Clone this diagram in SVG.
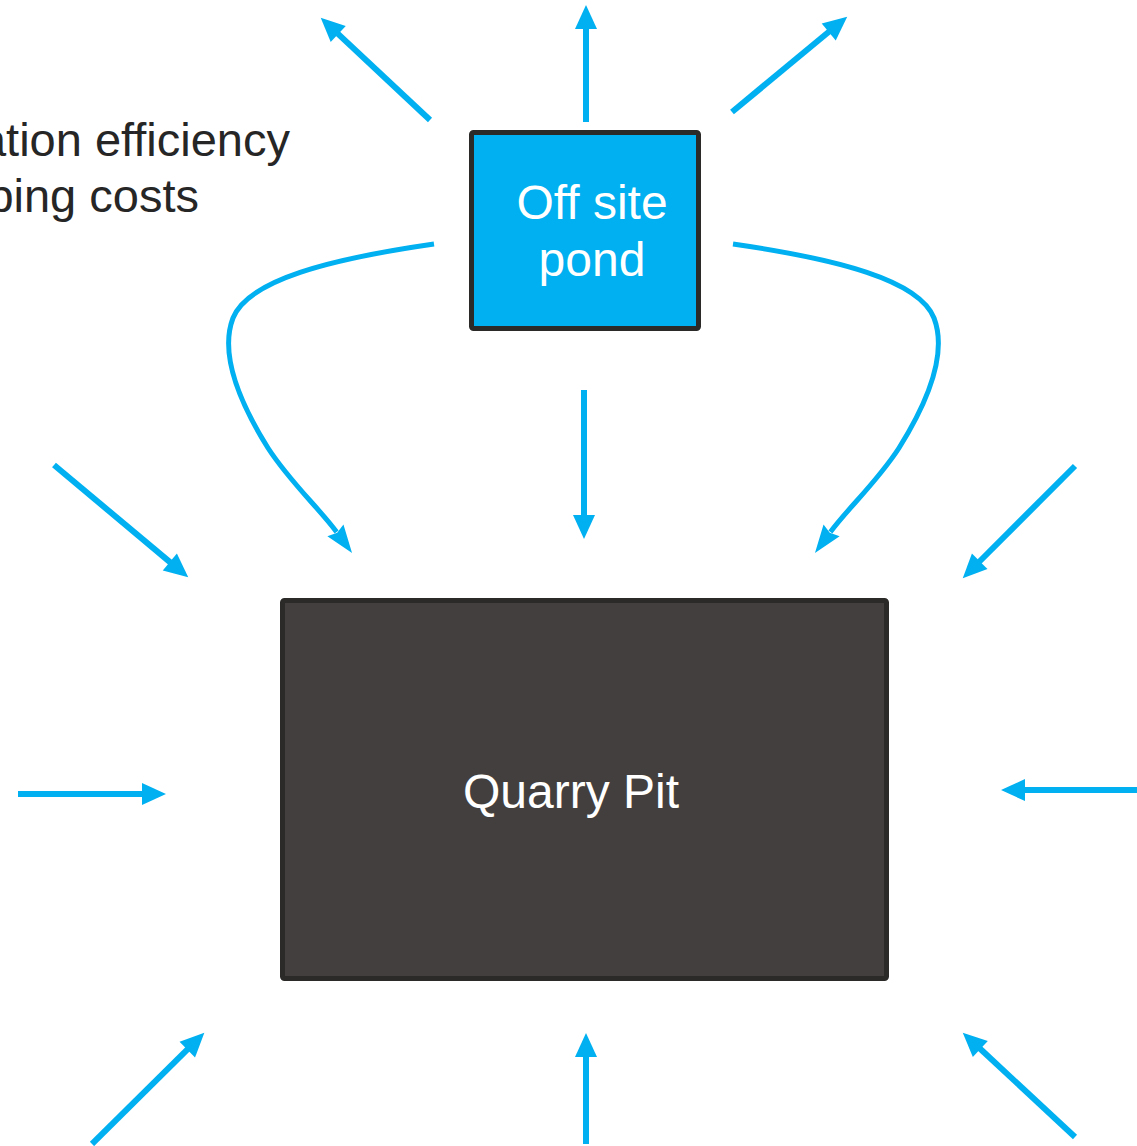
<svg xmlns="http://www.w3.org/2000/svg" width="1137" height="1146" viewBox="0 0 1137 1146">
<style>
.bg{fill:#ffffff}
.arrow{fill:none;stroke:#00b0f0;stroke-width:6;stroke-linecap:butt}
.curve{fill:none;stroke:#00b0f0;stroke-width:5;stroke-linecap:butt}
.pond{fill:#00b0f0;stroke:#2b2a29;stroke-width:5}
.pit{fill:#433f3e;stroke:#2b2a29;stroke-width:5}
.lbl{font-family:"Liberation Sans",Arial,sans-serif;font-size:48px;fill:#ffffff;text-anchor:middle}
.note{font-family:"Liberation Sans",Arial,sans-serif;font-size:47px;fill:#262626;text-anchor:end}
</style>
<defs>
<marker id="head" markerUnits="userSpaceOnUse" markerWidth="26" markerHeight="24" refX="1" refY="11" orient="auto" overflow="visible">
<path d="M0,0 L24,11 L0,22 z" fill="#00b0f0"/>
</marker>
<marker id="headc" markerUnits="userSpaceOnUse" markerWidth="30" markerHeight="22" refX="2" refY="10" orient="auto" overflow="visible">
<path d="M0,0 L28,10 L0,20 L3,10 z" fill="#00b0f0"/>
</marker>
</defs>
<rect class="bg" x="0" y="0" width="1137" height="1146"/>
<g id="notes">
<text class="note" x="290" y="156">ation efficiency</text>
<text class="note" x="199" y="212">ping costs</text>
</g>
<g id="connectors">
<path class="arrow" marker-end="url(#head)" d="M430,120 L337.5,33.4"/>
<path class="arrow" marker-end="url(#head)" d="M586,122 L586,28"/>
<path class="arrow" marker-end="url(#head)" d="M732,112 L829.5,31.3"/>
<path class="arrow" marker-end="url(#head)" d="M584,390 L584,516"/>
<path class="arrow" marker-end="url(#head)" d="M54,465 L170.6,562.6"/>
<path class="arrow" marker-end="url(#head)" d="M18,794 L143,794"/>
<path class="arrow" marker-end="url(#head)" d="M1075,466 L979,562"/>
<path class="arrow" marker-end="url(#head)" d="M1137,790 L1024,790"/>
<path class="arrow" marker-end="url(#head)" d="M92,1144 L188,1048.9"/>
<path class="arrow" marker-end="url(#head)" d="M586,1144 L586,1056"/>
<path class="arrow" marker-end="url(#head)" d="M1075,1137 L979.6,1048.3"/>
<path class="curve" marker-end="url(#headc)" d="M434,244 C330,259 248,280 233,318 C220,352 238,400 268,448 C290,482 318.8,507.9 336.6,532"/>
<path class="curve" marker-end="url(#headc)" d="M733,244 C837,259 919,280 934,318 C947,352 929,400 899,448 C877,482 848.2,507.9 830.4,532"/>
</g>
<g id="pond">
<rect class="pond" x="471.5" y="132.5" width="227" height="196" rx="2"/>
<text class="lbl" x="592" y="219">Off site</text>
<text class="lbl" x="592" y="276">pond</text>
</g>
<g id="quarry-pit">
<rect class="pit" x="282.5" y="600.5" width="604" height="378" rx="2"/>
<text class="lbl" x="571" y="808">Quarry Pit</text>
</g>
</svg>
